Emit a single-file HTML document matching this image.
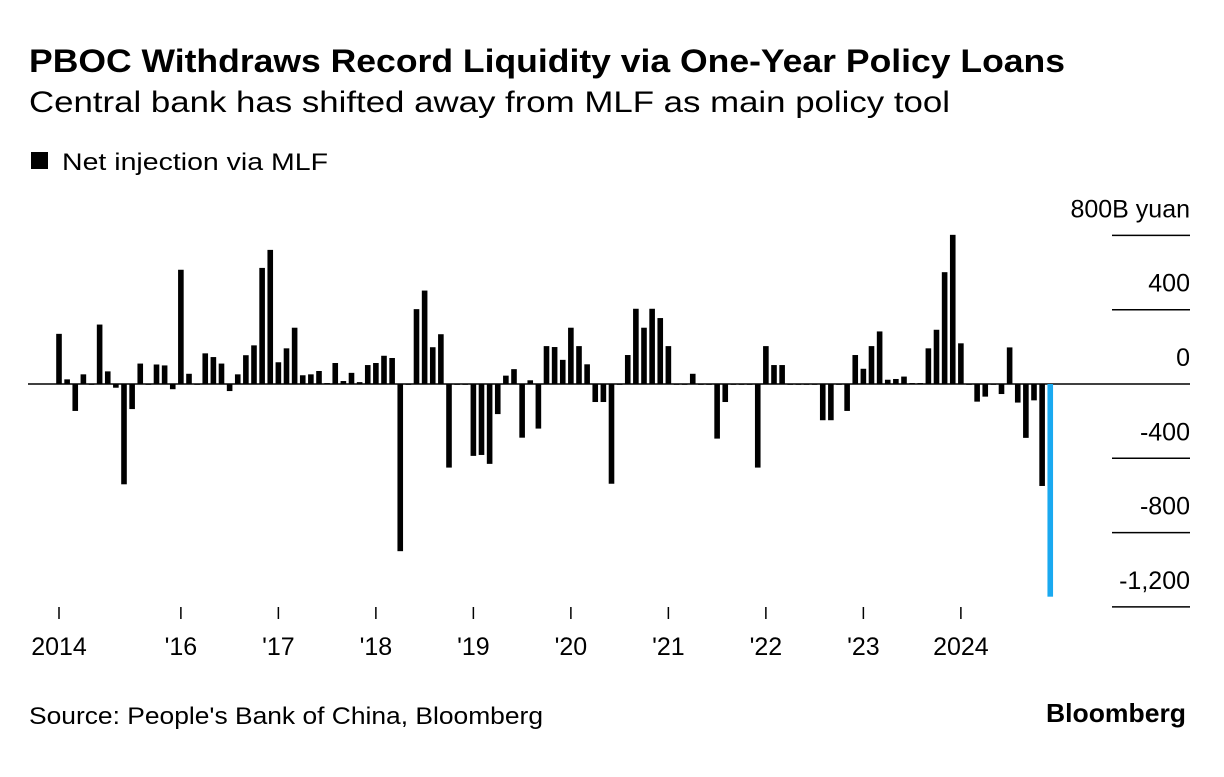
<!DOCTYPE html>
<html><head><meta charset="utf-8"><style>
body{margin:0;background:#fff;width:1224px;height:772px;overflow:hidden;font-family:"Liberation Sans",sans-serif;}
</style></head><body>
<svg width="1224" height="772" xmlns="http://www.w3.org/2000/svg" font-family="Liberation Sans, sans-serif">
<text x="29" y="72" font-size="32" font-weight="bold" fill="#000" textLength="1036" lengthAdjust="spacingAndGlyphs">PBOC Withdraws Record Liquidity via One-Year Policy Loans</text>
<text x="29" y="112" font-size="30" fill="#000" textLength="921" lengthAdjust="spacingAndGlyphs">Central bank has shifted away from MLF as main policy tool</text>
<rect x="31" y="152" width="17" height="17" fill="#000"/>
<text x="62" y="170" font-size="24" fill="#000" textLength="266" lengthAdjust="spacingAndGlyphs">Net injection via MLF</text>
<g id="grid"></g>
<g id="bars"></g>
<g id="xaxis"></g>
<text x="29" y="724" font-size="24" fill="#000" textLength="514" lengthAdjust="spacingAndGlyphs">Source: People's Bank of China, Bloomberg</text>
<text x="1046" y="722" font-size="26" font-weight="bold" fill="#000" textLength="140" lengthAdjust="spacingAndGlyphs">Bloomberg</text>
</svg>
<script>
const values=[270,25,-145,52,0,320,68,-20,-540,-135,110,0,105,100,-28,615,55,0,165,145,110,-38,52,155,208,625,722,117,192,303,47,52,70,5,113,16,60,10,102,113,152,140,-900,0,403,503,198,268,-450,0,0,-387,-382,-430,-162,45,80,-289,20,-240,204,199,130,303,204,106,-97,-97,-537,0,156,405,303,405,355,204,0,0,55,0,0,-294,-97,0,0,0,-450,204,102,102,0,0,0,0,-195,-195,0,-145,156,82,204,283,23,27,40,5,5,192,292,602,803,219,0,-95,-68,0,-54,197,-100,-290,-88,-549,-1145];
const yTicks=[800,400,0,-400,-800,-1200];
const yTickLabels=["800B yuan","400","0","-400","-800","-1,200"];
const xTickIdx=[0,15,27,39,51,63,75,87,99,111];
const xTickLabels=["2014","'16","'17","'18","'19","'20","'21","'22","'23","2024"];
const NS="http://www.w3.org/2000/svg";
const y0=384, k=74.3/400;
function yS(v){return y0-v*k;}
function xS(i){return 59+i*8.125;}
function mk(tag,attrs,parent){const e=document.createElementNS(NS,tag);for(const a in attrs)e.setAttribute(a,attrs[a]);document.getElementById(parent).appendChild(e);return e;}
yTicks.forEach((t,j)=>{
  const y=yS(t);
  let l;
  if(t===0){l=mk('line',{x1:28,x2:1190,y1:y,y2:y,stroke:'#000','stroke-width':1.5},'grid');}
  else{l=mk('line',{x1:1112,x2:1190,y1:y,y2:y,stroke:'#000','stroke-width':1.5},'grid');}
  
  
  const tx=mk('text',{x:1190,y:y-18,'font-size':25,'text-anchor':'end',fill:'#000'},'grid');
  tx.textContent=yTickLabels[j];
  
  
});
values.forEach((v,i)=>{
  const last=i===values.length-1;
  const y=Math.min(yS(v),y0), h=Math.max(Math.abs(yS(v)-y0),0.8);
  const r=mk('rect',{x:xS(i)-2.8,y:y,width:5.6,height:h,fill:last?'#1aa9f0':'#000'},'bars');
  
  
});
xTickIdx.forEach((idx,j)=>{
  const x=xS(idx);
  const l=mk('line',{x1:x,x2:x,y1:607,y2:619,stroke:'#000','stroke-width':1.5},'xaxis');
  
  
  const tx=mk('text',{x:x,y:655,'font-size':25,'text-anchor':'middle',fill:'#000'},'xaxis');
  tx.textContent=xTickLabels[j];
  
  
});
</script>
</body></html>
